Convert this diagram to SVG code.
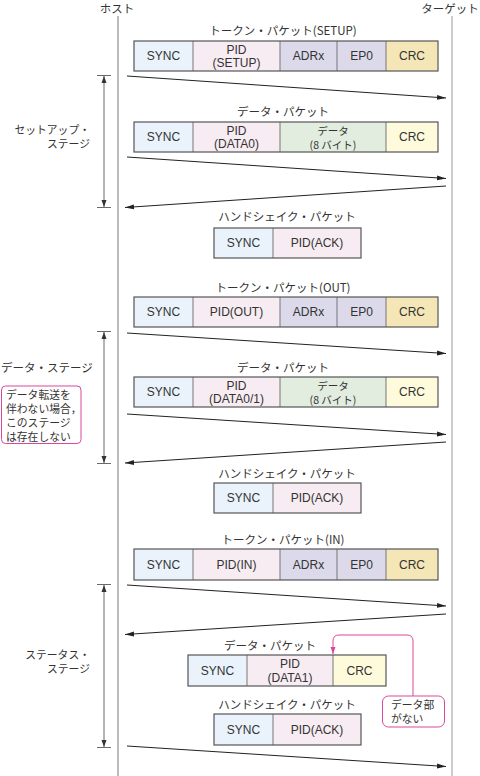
<svg xmlns="http://www.w3.org/2000/svg" width="480" height="776" viewBox="0 0 480 776">
<style>
text{font-family:"Noto Sans CJK JP","Noto Sans",sans-serif;font-size:11.5px;fill:#333;}
.l{font-family:"Liberation Sans","Noto Sans CJK JP",sans-serif;font-size:12px;}
.s{font-size:10.5px;}
.m{font-size:10.8px;}
.c{text-anchor:middle;}
.r{text-anchor:end;}
.frame{fill:none;stroke:#555;stroke-width:1.2;}
.div{stroke:#777;stroke-width:1;}
.sync{fill:#eaf3fb;}
.pid{fill:#f7ecf2;}
.adr{fill:#dcdaea;}
.crc{fill:#f5e6b8;}
.crc2{fill:#fefbdc;}
.dat{fill:#e2ede0;}
.msg{stroke:#222;stroke-width:1;fill:none;marker-end:url(#ah);}
.dim{stroke:#444;stroke-width:0.8;fill:none;}
.pink{stroke:#d9489a;stroke-width:1;fill:#fff;}
</style>
<defs>
<marker id="ah" markerWidth="10" markerHeight="6" refX="9" refY="3" orient="auto" markerUnits="userSpaceOnUse"><path d="M0,0.5 L9,3 L0,5.5 Z" fill="#222"/></marker>
<marker id="dh" markerWidth="8" markerHeight="6" refX="7" refY="3" orient="auto-start-reverse" markerUnits="userSpaceOnUse"><path d="M0,0.5 L7,3 L0,5.5 Z" fill="#333"/></marker>
<marker id="ph" markerWidth="8" markerHeight="6" refX="7" refY="3" orient="auto" markerUnits="userSpaceOnUse"><path d="M0,0.5 L7,3 L0,5.5 Z" fill="#d9489a"/></marker>
</defs>

<g id="lifelines">
<text x="117" y="13" class="c">ホスト</text>
<text x="450" y="13" class="c">ターゲット</text>
<line x1="118" y1="16" x2="118" y2="776" stroke="#bbb" stroke-width="2"/>
<line x1="452" y1="16" x2="452" y2="776" stroke="#999" stroke-width="1"/>
</g>

<g id="setup-token">
<text x="283" y="35" class="c">トークン・パケット(SETUP)</text>
<rect x="134" y="41" width="59" height="30" class="sync"/>
<rect x="193" y="41" width="87" height="30" class="pid"/>
<rect x="280" y="41" width="106" height="30" class="adr"/>
<rect x="386" y="41" width="52" height="30" class="crc"/>
<line x1="193" y1="41" x2="193" y2="71" class="div"/>
<line x1="280" y1="41" x2="280" y2="71" class="div"/>
<line x1="337" y1="41" x2="337" y2="71" class="div"/>
<line x1="386" y1="41" x2="386" y2="71" class="div"/>
<rect x="134" y="41" width="304" height="30" class="frame"/>
<text x="163.5" y="60" class="c l">SYNC</text>
<text x="236.5" y="54" class="c l">PID</text>
<text x="236.5" y="67" class="c l">(SETUP)</text>
<text x="308.5" y="60" class="c l">ADRx</text>
<text x="361.5" y="60" class="c l">EP0</text>
<text x="412" y="60" class="c l">CRC</text>
</g>

<g id="setup-data">
<text x="283" y="116" class="c">データ・パケット</text>
<rect x="134" y="122" width="59" height="30" class="sync"/>
<rect x="193" y="122" width="87" height="30" class="pid"/>
<rect x="280" y="122" width="106" height="30" class="dat"/>
<rect x="386" y="122" width="52" height="30" class="crc2"/>
<line x1="193" y1="122" x2="193" y2="152" class="div"/>
<line x1="280" y1="122" x2="280" y2="152" class="div"/>
<line x1="386" y1="122" x2="386" y2="152" class="div"/>
<rect x="134" y="122" width="304" height="30" class="frame"/>
<text x="163.5" y="141" class="c l">SYNC</text>
<text x="236.5" y="135" class="c l">PID</text>
<text x="236.5" y="148" class="c l">(DATA0)</text>
<text x="333" y="135" class="c s">データ</text>
<text x="333" y="149" class="c s">(8 バイト)</text>
<text x="412" y="141" class="c l">CRC</text>
</g>

<g id="setup-hs">
<text x="287" y="221" class="c">ハンドシェイク・パケット</text>
<rect x="214" y="228" width="59" height="30" class="sync"/>
<rect x="273" y="228" width="88" height="30" class="pid"/>
<line x1="273" y1="228" x2="273" y2="258" class="div"/>
<rect x="214" y="228" width="147" height="30" class="frame"/>
<text x="243.5" y="247" class="c l">SYNC</text>
<text x="317" y="247" class="c l">PID(ACK)</text>
</g>

<g id="out-token">
<text x="283" y="292" class="c">トークン・パケット(OUT)</text>
<rect x="134" y="297" width="59" height="30" class="sync"/>
<rect x="193" y="297" width="87" height="30" class="pid"/>
<rect x="280" y="297" width="106" height="30" class="adr"/>
<rect x="386" y="297" width="52" height="30" class="crc"/>
<line x1="193" y1="297" x2="193" y2="327" class="div"/>
<line x1="280" y1="297" x2="280" y2="327" class="div"/>
<line x1="337" y1="297" x2="337" y2="327" class="div"/>
<line x1="386" y1="297" x2="386" y2="327" class="div"/>
<rect x="134" y="297" width="304" height="30" class="frame"/>
<text x="163.5" y="316" class="c l">SYNC</text>
<text x="236.5" y="316" class="c l">PID(OUT)</text>
<text x="308.5" y="316" class="c l">ADRx</text>
<text x="361.5" y="316" class="c l">EP0</text>
<text x="412" y="316" class="c l">CRC</text>
</g>

<g id="out-data">
<text x="283" y="372" class="c">データ・パケット</text>
<rect x="134" y="377" width="59" height="30" class="sync"/>
<rect x="193" y="377" width="87" height="30" class="pid"/>
<rect x="280" y="377" width="106" height="30" class="dat"/>
<rect x="386" y="377" width="52" height="30" class="crc2"/>
<line x1="193" y1="377" x2="193" y2="407" class="div"/>
<line x1="280" y1="377" x2="280" y2="407" class="div"/>
<line x1="386" y1="377" x2="386" y2="407" class="div"/>
<rect x="134" y="377" width="304" height="30" class="frame"/>
<text x="163.5" y="396" class="c l">SYNC</text>
<text x="236.5" y="390" class="c l">PID</text>
<text x="236.5" y="403" class="c l">(DATA0/1)</text>
<text x="333" y="390" class="c s">データ</text>
<text x="333" y="404" class="c s">(8 バイト)</text>
<text x="412" y="396" class="c l">CRC</text>
</g>

<g id="out-hs">
<text x="287" y="478" class="c">ハンドシェイク・パケット</text>
<rect x="214" y="483" width="59" height="30" class="sync"/>
<rect x="273" y="483" width="88" height="30" class="pid"/>
<line x1="273" y1="483" x2="273" y2="513" class="div"/>
<rect x="214" y="483" width="147" height="30" class="frame"/>
<text x="243.5" y="502" class="c l">SYNC</text>
<text x="317" y="502" class="c l">PID(ACK)</text>
</g>

<g id="in-token">
<text x="283" y="544" class="c">トークン・パケット(IN)</text>
<rect x="134" y="549" width="59" height="31" class="sync"/>
<rect x="193" y="549" width="87" height="31" class="pid"/>
<rect x="280" y="549" width="106" height="31" class="adr"/>
<rect x="386" y="549" width="52" height="31" class="crc"/>
<line x1="193" y1="549" x2="193" y2="580" class="div"/>
<line x1="280" y1="549" x2="280" y2="580" class="div"/>
<line x1="337" y1="549" x2="337" y2="580" class="div"/>
<line x1="386" y1="549" x2="386" y2="580" class="div"/>
<rect x="134" y="549" width="304" height="31" class="frame"/>
<text x="163.5" y="569" class="c l">SYNC</text>
<text x="236.5" y="569" class="c l">PID(IN)</text>
<text x="308.5" y="569" class="c l">ADRx</text>
<text x="361.5" y="569" class="c l">EP0</text>
<text x="412" y="569" class="c l">CRC</text>
</g>

<g id="in-data">
<text x="270" y="650" class="c">データ・パケット</text>
<rect x="188" y="655" width="59" height="31" class="sync"/>
<rect x="247" y="655" width="86" height="31" class="pid"/>
<rect x="333" y="655" width="53" height="31" class="crc2"/>
<line x1="247" y1="655" x2="247" y2="686" class="div"/>
<line x1="333" y1="655" x2="333" y2="686" class="div"/>
<rect x="188" y="655" width="198" height="31" class="frame"/>
<text x="217.5" y="675" class="c l">SYNC</text>
<text x="290" y="668" class="c l">PID</text>
<text x="290" y="682" class="c l">(DATA1)</text>
<text x="359.5" y="675" class="c l">CRC</text>
</g>

<g id="in-hs">
<text x="287" y="709" class="c">ハンドシェイク・パケット</text>
<rect x="214" y="714" width="59" height="31" class="sync"/>
<rect x="273" y="714" width="88" height="31" class="pid"/>
<line x1="273" y1="714" x2="273" y2="745" class="div"/>
<rect x="214" y="714" width="147" height="31" class="frame"/>
<text x="243.5" y="734" class="c l">SYNC</text>
<text x="317" y="734" class="c l">PID(ACK)</text>
</g>

<g id="connectors">
<line x1="127" y1="76" x2="446" y2="98" class="msg"/>
<line x1="127" y1="157" x2="446" y2="178.5" class="msg"/>
<line x1="446" y1="186" x2="125" y2="207.5" class="msg"/>
<line x1="127" y1="333" x2="446" y2="353.5" class="msg"/>
<line x1="127" y1="414" x2="446" y2="434.5" class="msg"/>
<line x1="446" y1="442" x2="125" y2="463" class="msg"/>
<line x1="127" y1="585" x2="446" y2="606" class="msg"/>
<line x1="446" y1="614" x2="125" y2="634.5" class="msg"/>
<line x1="127" y1="746" x2="446" y2="766.5" class="msg"/>
</g>

<g id="setup-stage">
<line x1="97" y1="75.5" x2="111" y2="75.5" class="dim"/>
<line x1="97" y1="207.5" x2="111" y2="207.5" class="dim"/>
<line x1="104" y1="76" x2="104" y2="207" class="dim" marker-start="url(#dh)" marker-end="url(#dh)"/>
<text x="90" y="134" class="r m">セットアップ・</text>
<text x="90" y="148" class="r m">ステージ</text>
</g>

<g id="data-stage">
<line x1="97" y1="331.5" x2="111" y2="331.5" class="dim"/>
<line x1="97" y1="463.5" x2="111" y2="463.5" class="dim"/>
<line x1="104" y1="332" x2="104" y2="463" class="dim" marker-start="url(#dh)" marker-end="url(#dh)"/>
<text x="1" y="372">データ・ステージ</text>
<rect x="1.5" y="386" width="79.5" height="57.5" rx="4" class="pink"/>
<text x="6" y="399" class="m">データ転送を</text>
<text x="6" y="413" class="m">伴わない場合，</text>
<text x="6" y="427" class="m">このステージ</text>
<text x="6" y="441" class="m">は存在しない</text>
</g>

<g id="status-stage">
<line x1="97" y1="584.5" x2="111" y2="584.5" class="dim"/>
<line x1="97" y1="747.5" x2="111" y2="747.5" class="dim"/>
<line x1="104" y1="585" x2="104" y2="747" class="dim" marker-start="url(#dh)" marker-end="url(#dh)"/>
<text x="90" y="659" class="r m">ステータス・</text>
<text x="90" y="673" class="r m">ステージ</text>
</g>

<g id="no-data-note">
<path d="M413,696 L413,641 Q413,635 407,635 L339,635 Q333,635 333,641 L333,654" fill="none" stroke="#d9489a" stroke-width="1" marker-end="url(#ph)"/>
<rect x="382.5" y="696" width="62" height="31" rx="6" class="pink"/>
<text x="391" y="709" class="m">データ部</text>
<text x="391" y="723" class="m">がない</text>
</g>
</svg>
